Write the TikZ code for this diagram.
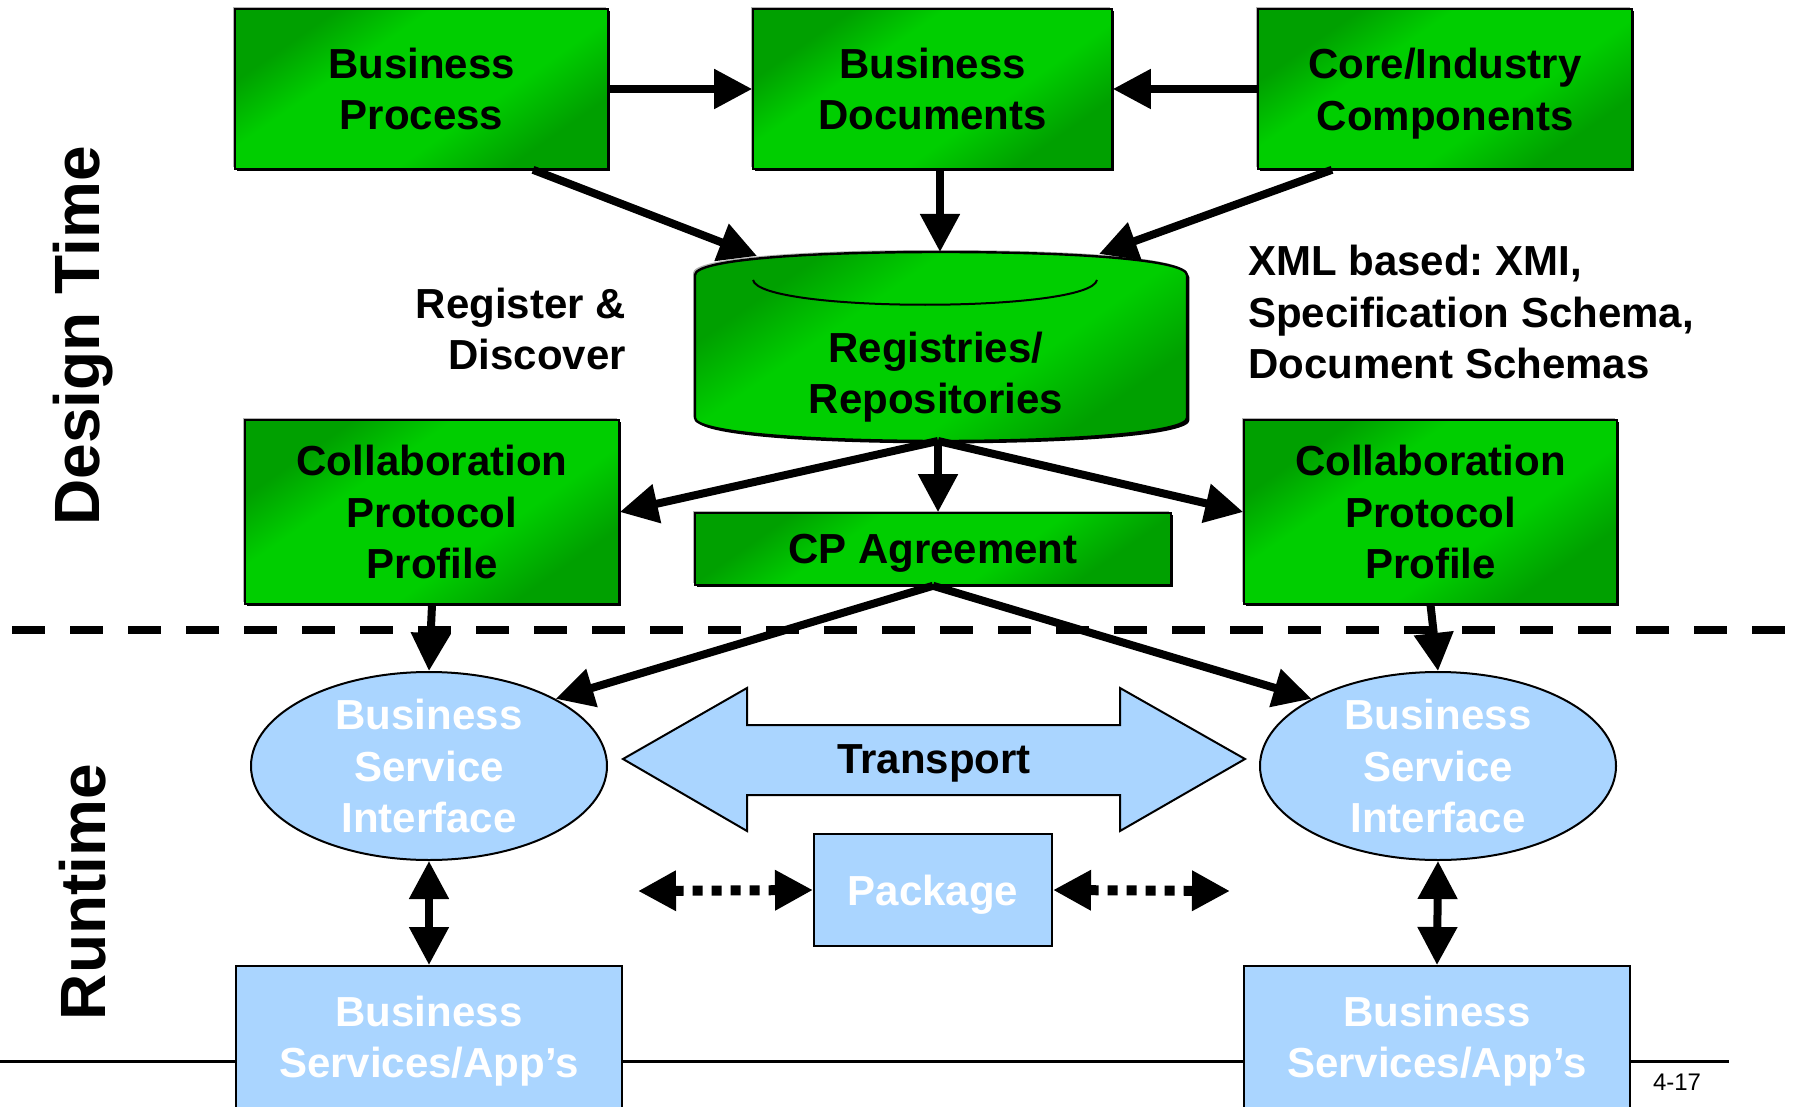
\documentclass[tikz,border=0pt]{standalone}
\usepackage{fontspec}
\setmainfont{Liberation Sans}
\usetikzlibrary{arrows.meta,shapes.geometric,calc}
\definecolor{gdark}{RGB}{0,160,0}
\definecolor{gmid}{RGB}{0,206,0}
\definecolor{sky}{RGB}{170,213,255}
\pgfdeclareverticalshading{gshade}{100bp}{color(0bp)=(gdark); color(27bp)=(gdark); color(40bp)=(gmid); color(62bp)=(gmid); color(73bp)=(gdark); color(100bp)=(gdark)}
\frenchspacing
\begin{document}
\begin{tikzpicture}[x=0.5pt,y=-0.5pt,
  bigfont/.style={font=\bfseries\fontsize{21}{25.8}\selectfont},
  gshadow/.style={preaction={fill=gray!60, transform canvas={shift={(-1pt,1pt)}}},
                  preaction={fill=black, transform canvas={shift={(1.2pt,-1.2pt)}}}},
  gbox/.style={gshadow, draw=black, line width=0.8pt, shading=gshade, shading angle=35, bigfont, align=center, inner sep=0pt},
  bbox/.style={draw=black, line width=1pt, fill=sky, bigfont, text=white, align=center, inner sep=0pt},
  ell/.style={ellipse, draw=black, line width=1pt, fill=sky, inner sep=0pt, minimum width=178pt, minimum height=94pt},
  wtext/.style={bigfont, text=white, align=center},
  btext/.style={bigfont, text=black},
  side/.style={rotate=90, font=\bfseries\fontsize{32}{38}\selectfont},
  tip/.tip={Triangle[length=19pt,width=19pt]},
  arr/.style={line width=4pt, -tip},
  darr/.style={line width=4pt, tip-tip},
  dotarr/.style={line width=5pt, dash pattern=on 5pt off 4.5pt, tip-tip}
]
\clip (0,0) rectangle (1798,1107);
\fill[white] (0,0) rectangle (1798,1107);

% separator and footer
\draw[line width=4pt, dash pattern=on 16.5pt off 12.5pt] (12,630) -- (1798,630);
\draw[line width=1.5pt] (0,1061) -- (1729,1061);
\node[font=\fontsize{12}{14}\selectfont] (pg) at (1677,1082) {4-17};

% side labels
\node[side] (dt) at (83,336) {Design Time};
\node[side] (rt) at (83,892) {Runtime};

% top boxes
\node[gbox, minimum width=186.5pt, minimum height=80pt] (bp) at (421.5,89) {Business\\Process};
\node[gbox, minimum width=179.5pt, minimum height=80pt] (bd) at (932.5,89) {Business\\Documents};
\node[gbox, minimum width=187pt, minimum height=80pt, text depth=0pt] (cic) at (1445,89) {Core/Industry\\Components};

% cylinder
\shade[gshadow, shading=gshade, shading angle=35, draw=black, line width=1.2pt]
  (695,275) .. controls (695,260) and (800,252) .. (941,252)
  .. controls (1080,252) and (1187,260) .. (1187,275) -- (1187,418)
  .. controls (1187,432) and (1080,441) .. (941,441)
  .. controls (800,441) and (695,432) .. (695,418) -- cycle;
\draw[line width=1pt] (753,280) .. controls (760,313) and (1090,313) .. (1097,280);
\node[btext, align=center] (reg) at (936,377) {Registries/\\Repositories};
\coordinate (regNW) at (757,256);
\coordinate (regN) at (940,252);
\coordinate (regNE) at (1099,254);
\coordinate (regS) at (938,441);

% labels
\node[btext, anchor=east, align=right] (rd) at (633,329) {Register \&\\Discover};
\node[btext, anchor=west, align=left] (xml) at (1241,312) {XML based: XMI,\\Specification Schema,\\Document Schemas};

% CPP and agreement
\node[gbox, minimum width=187pt, minimum height=92pt] (cppL) at (432,512) {Collaboration\\Protocol\\Profile};
\node[gbox, minimum width=238pt, minimum height=36pt, text depth=0pt] (cpa) at (933,549) {CP Agreement};
\node[gbox, minimum width=186.5pt, minimum height=92pt] (cppR) at (1430.5,512) {Collaboration\\Protocol\\Profile};

% runtime
\node[ell] (ellL) at (429,766) {};
\node[wtext] (ellLt) at (ellL.center) {Business\\Service\\Interface};
\node[ell] (ellR) at (1438,766) {};
\node[wtext] (ellRt) at (ellR.center) {Business\\Service\\Interface};

\filldraw[fill=sky, draw=black, line width=1pt] (623,759) -- (747,688) -- (747,725) -- (1120,725) -- (1120,688) -- (1245,759) -- (1120,831) -- (1120,795) -- (747,795) -- (747,831) -- cycle;
\node[btext] (tr) at (934,763) {Transport};

\node[bbox, minimum width=119pt, minimum height=56pt, text depth=0pt] (pkg) at (933,890) {Package};
\coordinate (dl) at (638,891);
\coordinate (dr) at (1230,891);

\node[bbox, minimum width=193pt, minimum height=75pt] (bsL) at (429,1041) {Business\\Services/App’s};
\node[bbox, minimum width=193pt, minimum height=75pt] (bsR) at (1437,1041) {Business\\Services/App’s};

% connectors
\draw[arr] (bp.east) -- (bd.west);
\draw[arr] (cic.west) -- (bd.east);
\draw[arr] ([xshift=55.75pt]bp.south) -- (regNW);
\draw[arr] (regN |- bd.south) -- (regN);
\draw[arr] ([xshift=-56.5pt]cic.south) -- (regNE);
\draw[arr] (regS) -- (cppL.east);
\draw[arr] (regS) -- (regS |- cpa.north);
\draw[arr] (regS) -- (cppR.west);
\draw[arr] (cppL.south) -- (ellL.north);
\draw[arr] (cppR.south) -- (ellR.north);
\draw[arr] (cpa.south) -- (ellL.north east);
\draw[arr] (cpa.south) -- (ellR.north west);
\draw[darr] (ellL.south) -- (bsL.north);
\draw[darr] (ellR.south) -- (bsR.north);
\draw[dotarr] (dl) -- (pkg.west);
\draw[dotarr] (pkg.east) -- (dr);
\end{tikzpicture}
\end{document}
